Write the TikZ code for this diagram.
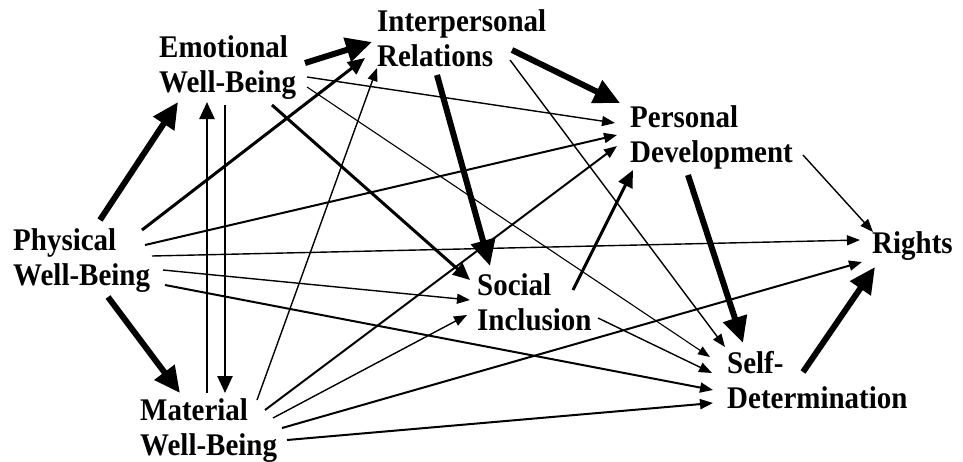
\documentclass[tikz,border=0pt]{standalone}
\usepackage{fontspec}
\setmainfont{Liberation Serif}[FakeStretch=0.92]
\usetikzlibrary{arrows.meta}

\tikzset{
  label/.style={inner sep=0pt, anchor=base west, align=left,
    font=\bfseries\fontsize{31.5}{35}\selectfont},
  heavy/.style={line width=6pt, -{Triangle[length=26pt,width=24pt]}},
  medium/.style={line width=3pt, -{Triangle[length=17pt,width=15pt]}},
  light/.style={line width=1.4pt, -{Triangle[length=13pt,width=10pt]}},
  lighter/.style={line width=1.1pt, -{Triangle[length=12pt,width=9pt]}},
  firm/.style={line width=2pt, -{Triangle[length=13pt,width=10pt]}},
}

\begin{document}
\begin{tikzpicture}[x=1pt,y=-1pt]
\useasboundingbox[fill=white] (0,0) rectangle (963,461);

% domains (placed by the baseline of their last line)
\node[label] (emo)    at (159,92)  {Emotional\\Well-Being};
\node[label] (phys)   at (13,285)  {Physical\\Well-Being};
\node[label] (mat)    at (140,455) {Material\\Well-Being};
\node[label] (inter)  at (377,66)  {Interpersonal\\Relations};
\node[label] (pers)   at (630,162) {Personal\\Development};
\node[label] (soc)    at (477,330) {Social\\Inclusion};
\node[label] (self)   at (727,408) {Self-\\Determination};
\node[label] (rights) at (872,253) {Rights};

% strongest paths
\draw[heavy] ([shift={(87,-65)}]phys.base west) -- ([shift={(19,10)}]emo.base west);
\draw[heavy] ([shift={(95,12)}]phys.base west) -- ([shift={(40,-62)}]mat.base west);
\draw[heavy] ([shift={(146,-29)}]emo.base west) -- ([shift={(-5,-24)}]inter.base west);
\draw[heavy] ([shift={(135,-16)}]inter.base west) -- ([shift={(-10,-59)}]pers.base west);
\draw[heavy] ([shift={(60,9)}]inter.base west) -- ([shift={(13,-64)}]soc.base west);
\draw[heavy] ([shift={(58,13)}]pers.base west) -- ([shift={(16,-65)}]self.base west);
\draw[heavy] ([shift={(76,-36)}]self.base west) -- ([shift={(3,14)}]rights.base west);

% medium paths
\draw[medium] ([shift={(113,13)}]emo.base west) -- ([shift={(-7,-50)}]soc.base west);
\draw[medium] ([shift={(129,-55)}]phys.base west) -- ([shift={(-12,-8)}]inter.base west);
\draw[medium] ([shift={(96,-40)}]soc.base west) -- ([shift={(3,8)}]pers.base west);
\draw[medium, line width=2.5pt] ([shift={(67,-62)}]mat.base west) -- ([shift={(48,10)}]emo.base west);
\draw[medium, line width=2.5pt] ([shift={(66,13)}]emo.base west) -- ([shift={(85,-62)}]mat.base west);

% weaker paths
\draw[light]   ([shift={(148,-15)}]emo.base west) -- ([shift={(-15,-39)}]pers.base west);
\draw[lighter] ([shift={(148,-5)}]emo.base west) -- ([shift={(-17,-51)}]self.base west);
\draw[light]   ([shift={(133,-6)}]inter.base west) -- ([shift={(-2,-61)}]self.base west);
\draw[firm]    ([shift={(132,-40)}]phys.base west) -- ([shift={(-13,-27)}]pers.base west);
\draw[light]   ([shift={(139,-29)}]phys.base west) -- ([shift={(-12,-13)}]rights.base west);
\draw[light]   ([shift={(150,-15)}]phys.base west) -- ([shift={(-7,-30)}]soc.base west);
\draw[firm]    ([shift={(152,0)}]phys.base west) -- ([shift={(-14,-18)}]self.base west);
\draw[light]   ([shift={(121,-12)}]soc.base west) -- ([shift={(-15,-35)}]self.base west);
\draw[light]   ([shift={(117,-55)}]mat.base west) -- ([shift={(0,2)}]inter.base west);
\draw[firm]    ([shift={(125,-45)}]mat.base west) -- ([shift={(-13,-16)}]pers.base west);
\draw[light]   ([shift={(133,-37)}]mat.base west) -- ([shift={(-10,-15)}]soc.base west);
\draw[firm]    ([shift={(142,-27)}]mat.base west) -- ([shift={(-10,9)}]rights.base west);
\draw[firm]    ([shift={(147,-15)}]mat.base west) -- ([shift={(-14,-5)}]self.base west);
\draw[light]   ([shift={(173,-7)}]pers.base west) -- ([shift={(1,-21)}]rights.base west);
\end{tikzpicture}
\end{document}
